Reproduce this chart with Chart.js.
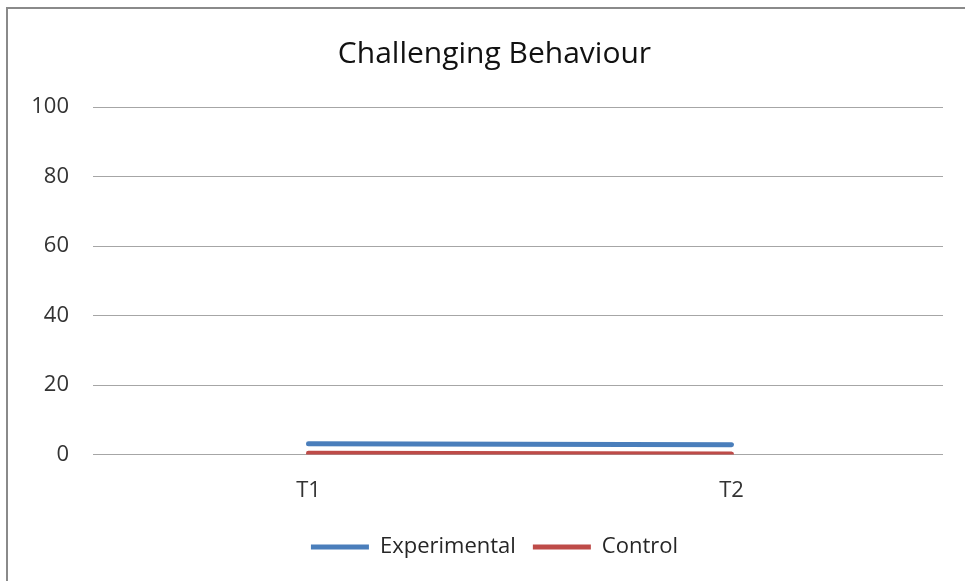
<!DOCTYPE html>
<html>
<head>
<meta charset="utf-8">
<script src="https://cdn.jsdelivr.net/npm/chart.js@4"></script>
<style>
  body { margin: 0; background: #fff; }
  #wrap { position: relative; width: 965px; height: 581px; }
  #frame { position: absolute; left: 6px; top: 7px; width: 1000px; height: 600px; border: 2px solid #8a8a8a; pointer-events: none; }
</style>
</head>
<body>
<div id="wrap">
  <canvas id="lineChart" width="965" height="581"></canvas>
  <div id="frame"></div>
</div>
<script>
// datos
var periodos = ["T1", "T2"];
var experimental = [3.1, 2.8];
var control = [0.4, 0.2];
var yTicks = [0, 20, 40, 60, 80, 100];

const CHART = document.getElementById("lineChart");
const fuente = "'Open Sans', sans-serif";

let lineChart = new Chart(CHART, {
  type: 'line',
  data: {
    labels: periodos,
    datasets: [
      {
        label: "Experimental",
        data: experimental,
        borderColor: "#4a7ebb",
        backgroundColor: "#4a7ebb",
        borderWidth: 5,
        borderCapStyle: 'round',
        pointRadius: 0,
        lineTension: 0,
        fill: false
      },
      {
        label: "Control",
        data: control,
        borderColor: "#be4b48",
        backgroundColor: "#be4b48",
        borderWidth: 5,
        borderCapStyle: 'round',
        pointRadius: 0,
        lineTension: 0,
        fill: false
      }
    ]
  },
  options: {
    responsive: false,
    animation: false,
    layout: { padding: { left: 24, right: 0, top: 20, bottom: 13 } },
    plugins: {
      title: {
        display: true,
        text: "Challenging Behaviour",
        color: "#111",
        font: { family: fuente, size: 30, weight: 'normal' },
        padding: { top: 16, bottom: 35 }
      },
      legend: {
        position: 'bottom',
        labels: {
          usePointStyle: true,
          pointStyle: 'line',
          pointStyleWidth: 58,
          color: "#262626",
          font: { family: fuente, size: 22 },
          padding: 17
        }
      },
      tooltip: { enabled: false }
    },
    scales: {
      x: {
        offset: true,
        grid: { display: false },
        border: { display: false },
        ticks: { color: "#333", font: { family: fuente, size: 22 }, padding: 15 }
      },
      y: {
        min: 0,
        max: 100,
        afterBuildTicks: function(axis) { axis.ticks = yTicks.map(function(v) { return { value: v }; }); },
        afterFit: function(axis) { axis.width = 73; },
        grid: { color: "#a6a6a6", lineWidth: 1, tickLength: 4 },
        border: { display: false },
        ticks: { color: "#333", font: { family: fuente, size: 22 }, padding: 24 }
      },
      // eje vacio a la derecha, solo para dejar margen
      margen: {
        position: 'right',
        display: true,
        grid: { display: false },
        border: { display: false },
        ticks: { display: false },
        afterFit: function(axis) { axis.width = 22; }
      }
    }
  }
});
</script>
</body>
</html>
